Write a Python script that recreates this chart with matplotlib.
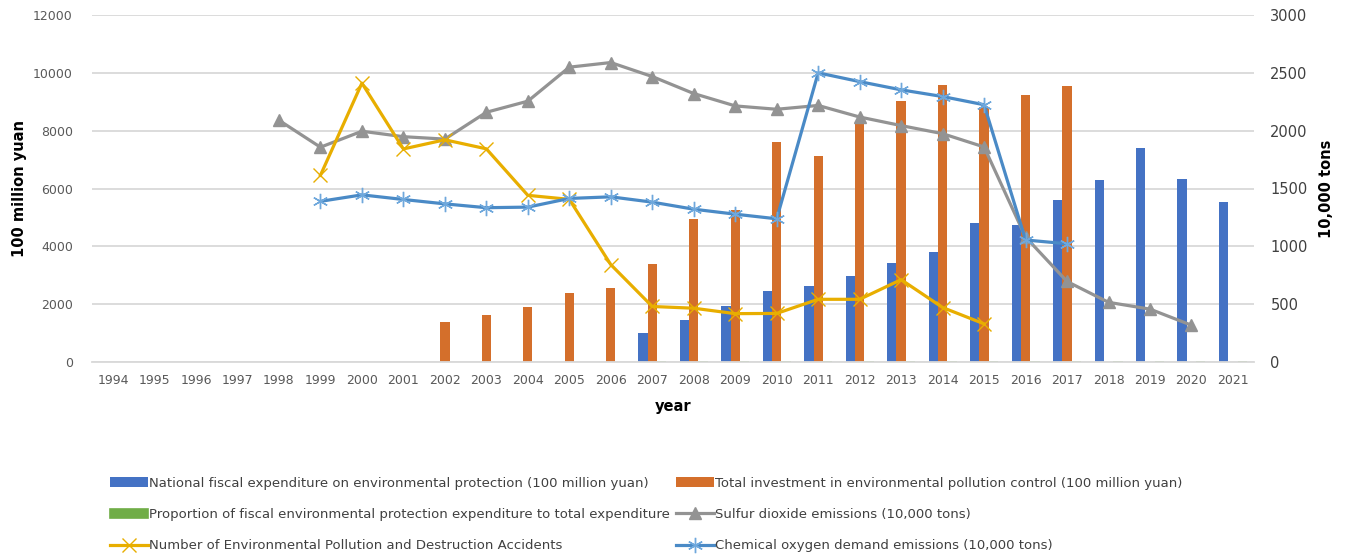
import matplotlib.pyplot as plt
import numpy as np

# data
years = list(range(1994, 2022))

fiscal_years = list(range(2007, 2022))
fiscal_exp = [996, 1451, 1934, 2442, 2641, 2963, 3435, 3816, 4803, 4735, 5617, 6298, 7390, 6317, 5525]

invest_years = list(range(2002, 2018))
invest_total = [1367, 1628, 1909, 2388, 2567, 3387, 4937, 5258, 7612, 7114, 8253, 9037, 9576, 8806, 9220, 9539]

prop_years = list(range(2007, 2022))
prop_exp = [2.0, 2.3, 2.5, 2.7, 2.4, 2.4, 2.5, 2.5, 2.7, 2.5, 2.8, 2.9, 3.1, 2.6, 2.2]

so2_years = list(range(1998, 2021))
so2 = [2090, 1857, 1995, 1948, 1927, 2159, 2255, 2549, 2589, 2468, 2321, 2214, 2185,
       2218, 2118, 2044, 1974, 1859, 1080, 696, 516, 457, 318]

acc_years = list(range(1999, 2016))
accidents = [1614, 2411, 1842, 1921, 1843, 1441, 1406, 842, 480, 465, 418, 420, 542, 542, 712, 471, 330]

cod_years = list(range(1999, 2018))
cod = [1389, 1445, 1405, 1367, 1334, 1339, 1414, 1428, 1382, 1321, 1278, 1238, 2500, 2424,
       2353, 2295, 2224, 1055, 1022]

labels = ["National fiscal expenditure on environmental protection (100 million yuan)",
          "Total investment in environmental pollution control (100 million yuan)",
          "Proportion of fiscal environmental protection expenditure to total expenditure",
          "Sulfur dioxide emissions (10,000 tons)",
          "Number of Environmental Pollution and Destruction Accidents",
          "Chemical oxygen demand emissions (10,000 tons)"]

def pos(yrs):
    return np.array([years.index(y) for y in yrs])

fig = plt.figure(figsize=(13.45, 5.59), dpi=100)
ax = fig.add_axes([92.3 / 1345, 1 - 362 / 559, 1161.4 / 1345, 347 / 559])
ax2 = ax.twinx()

w = 0.225
tick_col = "#595959"

b1 = ax.bar(pos(fiscal_years) - w, fiscal_exp, w, color="#4472C4", zorder=2)
b2 = ax.bar(pos(invest_years), invest_total, w, color="#D46F2B", zorder=2)
b3 = ax.bar(pos(prop_years) + w, prop_exp, w, color="#70AD47", edgecolor="#70AD47", lw=1.2, zorder=2)

l1, = ax2.plot(pos(so2_years), so2, color="#939393", lw=2.3, marker="^", ms=8, zorder=3)
l2, = ax2.plot(pos(acc_years), accidents, color="#E8AE00", lw=2.3, marker="x", ms=10, mew=1.0, zorder=3)
l3, = ax2.plot(pos(cod_years), cod, color="#4A8AC6", lw=2.3, marker=(6, 2, 0), ms=11, mew=1.0,
               mec="#6FA8DC", zorder=4)

ax.set_xlim(-0.5, len(years) - 0.5)
ax.set_ylim(0, 12000)
ax2.set_ylim(0, 3000)
ax.set_yticks(range(0, 12001, 2000))
ax2.set_yticks(range(0, 3001, 500))
ax.set_xticks(range(len(years)))
ax.set_xticklabels([str(y) for y in years])

ax.grid(axis="y", color="#D9D9D9", lw=1.3, zorder=0)
ax.set_axisbelow(True)
for a in (ax, ax2):
    for s in a.spines.values():
        s.set_visible(False)
ax.spines["bottom"].set_visible(True)
ax.spines["bottom"].set_color("#D9D9D9")
ax.spines["bottom"].set_linewidth(1.3)

ax.tick_params(axis="x", length=0, pad=9, labelsize=9, labelcolor=tick_col)
ax.tick_params(axis="y", length=0, pad=14, labelsize=9, labelcolor=tick_col)
ax2.tick_params(axis="y", length=0, pad=12, labelsize=10.5, labelcolor="#404040")

ax.set_ylabel("100 million yuan", fontsize=10.5, fontweight="bold", labelpad=4)
ax2.set_ylabel("10,000 tons", fontsize=10.5, fontweight="bold", labelpad=8)
ax.set_xlabel("year", fontsize=10.5, fontweight="bold", labelpad=8)

handles = [b1, b3, l2, b2, l1, l3]
labs = [labels[0], labels[2], labels[4], labels[1], labels[3], labels[5]]
fig.legend(handles, labs, ncol=2, loc="upper left", bbox_to_anchor=(98 / 1345, 1 - 465 / 559),
           frameon=False, prop={"size": 9.5},
           handlelength=2.9, handleheight=0.76, handletextpad=0.1, columnspacing=0.4,
           labelspacing=1.38, labelcolor="#404040")

fig.savefig("out.png", dpi=100)
